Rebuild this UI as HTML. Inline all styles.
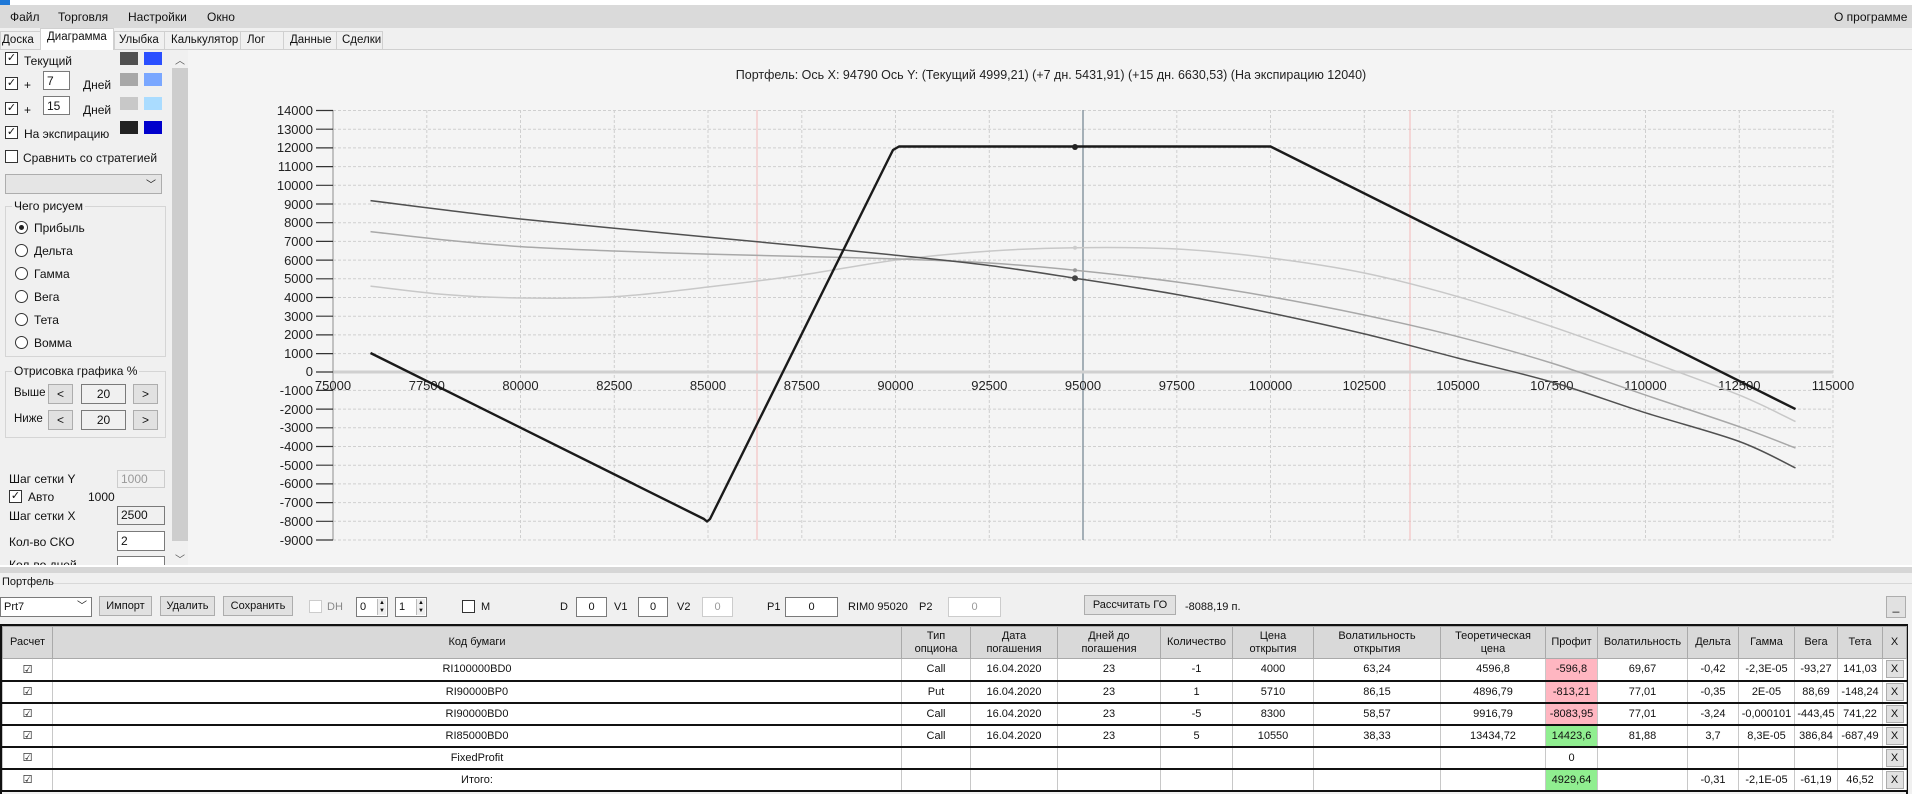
<!DOCTYPE html>
<html><head><meta charset="utf-8"><style>
*{box-sizing:border-box}
body{margin:0;width:1912px;height:794px;background:#f0f0f0;font-family:"Liberation Sans",sans-serif;font-size:12px;color:#111;position:relative;overflow:hidden}
.a{position:absolute;white-space:nowrap}
.cb{position:absolute;width:13px;height:13px;border:1px solid #333;background:#fff;font-size:11px;line-height:11px;text-align:center}
.rb{position:absolute;width:13px;height:13px;border:1px solid #333;border-radius:50%;background:#fff}
.box{position:absolute;border:1px solid #7a7a7a;background:#fff;padding-left:3px;line-height:18px}
.btn{position:absolute;border:1px solid #adadad;background:#e1e1e1;text-align:center;line-height:18px}
.sw{position:absolute;width:18px;height:13px}
.grp{position:absolute;border:1px solid #d5d5d5}
.gl{position:absolute;background:#f0f0f0;padding:0 2px;top:-8px;left:6px}
table{position:absolute;border-collapse:collapse;font-size:11px;table-layout:fixed}
td{border-left:1px solid #c8c8c8;border-right:1px solid #c8c8c8;border-bottom:2px solid #111;text-align:center;height:22px;padding:0;background:#fff;overflow:hidden;white-space:nowrap}
th{background:#d9d9d9;font-weight:normal;border:1px solid #aaa;height:32px;padding:0;line-height:13px}
.xb{display:inline-block;width:18px;height:18px;border:1px solid #adadad;background:#e1e1e1;line-height:16px}
.pk{background:#ffb6c1}.gr{background:#90ee90}
.sp{position:absolute;right:1px;top:1px;width:9px;height:16px;border-left:1px solid #bbb;font-size:6px;line-height:8px;text-align:center;background:#eee}
</style></head><body>
<div class="a" style="left:0;top:0;width:1912px;height:5px;background:#fff"></div>
<div class="a" style="left:0;top:0;width:10px;height:5px;background:#1e78d7"></div>
<div class="a" style="left:0;top:5px;width:1912px;height:23px;background:#dadada"></div>
<div class="a" style="left:10px;top:10px">Файл</div>
<div class="a" style="left:58px;top:10px">Торговля</div>
<div class="a" style="left:128px;top:10px">Настройки</div>
<div class="a" style="left:207px;top:10px">Окно</div>
<div class="a" style="left:1834px;top:10px">О программе</div>
<div class="a" style="left:0;top:49px;width:1912px;height:1px;background:#d0d0d0"></div>
<div class="a" style="left:0;top:31px;width:383px;height:19px;border:1px solid #d0d0d0;background:#f0f0f0"></div>
<div class="a" style="left:40px;top:28px;width:74px;height:22px;background:#fff;border:1px solid #d0d0d0;border-bottom:none"></div>
<div class="a" style="left:2px;top:34px;font-size:11.5px">Доска</div>
<div class="a" style="left:47px;top:31px;font-size:11.5px">Диаграмма</div>
<div class="a" style="left:119px;top:34px;font-size:11.5px">Улыбка</div>
<div class="a" style="left:171px;top:34px;font-size:11.5px">Калькулятор</div>
<div class="a" style="left:247px;top:34px;font-size:11.5px">Лог</div>
<div class="a" style="left:290px;top:34px;font-size:11.5px">Данные</div>
<div class="a" style="left:342px;top:34px;font-size:11.5px">Сделки</div>
<div class="a" style="left:114px;top:31px;width:1px;height:19px;background:#d0d0d0"></div>
<div class="a" style="left:164px;top:31px;width:1px;height:19px;background:#d0d0d0"></div>
<div class="a" style="left:240px;top:31px;width:1px;height:19px;background:#d0d0d0"></div>
<div class="a" style="left:283px;top:31px;width:1px;height:19px;background:#d0d0d0"></div>
<div class="a" style="left:336px;top:31px;width:1px;height:19px;background:#d0d0d0"></div>
<div class="a" style="left:188px;top:50px;width:1724px;height:515px;background:#f4f4f4"></div>
<div class="cb" style="left:5px;top:52px">✓</div><div class="a" style="left:24px;top:54px">Текущий</div>
<div class="sw" style="left:120px;top:52px;background:#505050"></div><div class="sw" style="left:144px;top:52px;background:#2a4fff"></div>
<div class="cb" style="left:5px;top:77px">✓</div><div class="a" style="left:24px;top:78px">+</div>
<div class="box" style="left:43px;top:71px;width:27px;height:19px">7</div><div class="a" style="left:83px;top:78px">Дней</div>
<div class="sw" style="left:120px;top:73px;background:#a8a8a8"></div><div class="sw" style="left:144px;top:73px;background:#7aa7ff"></div>
<div class="cb" style="left:5px;top:102px">✓</div><div class="a" style="left:24px;top:103px">+</div>
<div class="box" style="left:43px;top:96px;width:27px;height:19px">15</div><div class="a" style="left:83px;top:103px">Дней</div>
<div class="sw" style="left:120px;top:97px;background:#c8c8c8"></div><div class="sw" style="left:144px;top:97px;background:#aadcff"></div>
<div class="cb" style="left:5px;top:126px">✓</div><div class="a" style="left:24px;top:127px">На экспирацию</div>
<div class="sw" style="left:120px;top:121px;background:#222"></div><div class="sw" style="left:144px;top:121px;background:#0000cc"></div>
<div class="cb" style="left:5px;top:150px"></div><div class="a" style="left:23px;top:151px">Сравнить со стратегией</div>
<div class="a" style="left:5px;top:174px;width:157px;height:20px;border:1px solid #adadad;background:#e5e5e5"><span class="a" style="right:5px;top:1px;font-size:10px">﹀</span></div>
<div class="grp" style="left:5px;top:206px;width:161px;height:151px"><span class="gl">Чего рисуем</span></div>
<div class="rb" style="left:15px;top:221px"><div style="position:absolute;left:3px;top:3px;width:5px;height:5px;border-radius:50%;background:#222"></div></div><div class="a" style="left:34px;top:221px">Прибыль</div>
<div class="rb" style="left:15px;top:244px"></div><div class="a" style="left:34px;top:244px">Дельта</div>
<div class="rb" style="left:15px;top:267px"></div><div class="a" style="left:34px;top:267px">Гамма</div>
<div class="rb" style="left:15px;top:290px"></div><div class="a" style="left:34px;top:290px">Вега</div>
<div class="rb" style="left:15px;top:313px"></div><div class="a" style="left:34px;top:313px">Тета</div>
<div class="rb" style="left:15px;top:336px"></div><div class="a" style="left:34px;top:336px">Вомма</div>
<div class="grp" style="left:5px;top:371px;width:161px;height:67px"><span class="gl">Отрисовка графика %</span></div>
<div class="a" style="left:14px;top:387px;font-size:11.5px">Выше</div>
<div class="btn" style="left:48px;top:384px;width:25px;height:20px">&lt;</div><div class="box" style="left:81px;top:384px;width:45px;height:20px;text-align:center;padding:0;background:#f0f0f0">20</div><div class="btn" style="left:133px;top:384px;width:25px;height:20px">&gt;</div>
<div class="a" style="left:14px;top:413px;font-size:11.5px">Ниже</div>
<div class="btn" style="left:48px;top:410px;width:25px;height:20px">&lt;</div><div class="box" style="left:81px;top:410px;width:45px;height:20px;text-align:center;padding:0;background:#f0f0f0">20</div><div class="btn" style="left:133px;top:410px;width:25px;height:20px">&gt;</div>
<div class="a" style="left:9px;top:472px">Шаг сетки Y</div>
<div class="box" style="left:117px;top:470px;width:48px;height:18px;color:#999;border-color:#ccc;background:#f0f0f0;line-height:16px">1000</div>
<div class="cb" style="left:9px;top:490px">✓</div><div class="a" style="left:28px;top:490px">Авто</div><div class="a" style="left:88px;top:490px">1000</div>
<div class="a" style="left:9px;top:509px">Шаг сетки X</div>
<div class="box" style="left:117px;top:506px;width:48px;height:19px;background:#f0f0f0;line-height:17px">2500</div>
<div class="a" style="left:9px;top:535px">Кол-во СКО</div>
<div class="box" style="left:117px;top:531px;width:48px;height:20px">2</div>
<div class="a" style="left:9px;top:558px;height:7px;overflow:hidden">Кол-во дней</div>
<div class="box" style="left:117px;top:556px;width:48px;height:9px;border-bottom:none;line-height:12px;overflow:hidden"></div>
<div class="a" style="left:172px;top:50px;width:16px;height:515px;background:#f0f0f0"></div>
<div class="a" style="left:172px;top:68px;width:16px;height:473px;background:#cdcdcd"></div>
<div class="a" style="left:175px;top:52px;font-size:10px;color:#555">︿</div>
<div class="a" style="left:175px;top:551px;font-size:10px;color:#555">﹀</div>

<svg class="a" style="left:0;top:0" width="1912" height="565" xmlns="http://www.w3.org/2000/svg" font-family="Liberation Sans, sans-serif">
<text x="1051" y="79" font-size="12.5" text-anchor="middle" fill="#222">Портфель: Ось X: 94790 Ось Y:  (Текущий 4999,21)  (+7 дн. 5431,91)  (+15 дн. 6630,53)  (На экспирацию 12040)</text>
<g stroke="#cfcfcf" stroke-dasharray="3,2" stroke-width="1">
<path d="M333 110.5H1833M333 129.2H1833M333 147.9H1833M333 166.6H1833M333 185.3H1833M333 204H1833M333 222.7H1833M333 241.4H1833M333 260.1H1833M333 278.8H1833M333 297.5H1833M333 316.2H1833M333 334.9H1833M333 353.6H1833M333 390.4H1833M333 409.1H1833M333 427.8H1833M333 446.5H1833M333 465.2H1833M333 483.9H1833M333 502.6H1833M333 521.3H1833M333 540H1833"/>
<path d="M426.8 110V540M520.5 110V540M614.3 110V540M708 110V540M801.8 110V540M895.5 110V540M989.3 110V540M1083 110V540M1176.8 110V540M1270.5 110V540M1364.3 110V540M1458 110V540M1551.8 110V540M1645.5 110V540M1739.3 110V540M1833 110V540"/>
</g>
<line x1="757" y1="110" x2="757" y2="540" stroke="#f4b8b8"/>
<line x1="1410" y1="110" x2="1410" y2="540" stroke="#f4b8b8"/>
<line x1="1083" y1="110" x2="1083" y2="540" stroke="#7a8a96" stroke-width="1.3"/>
<line x1="333" y1="372" x2="1833" y2="372" stroke="#d0d0d0" stroke-width="3"/>
<line x1="333" y1="110" x2="333" y2="540" stroke="#b0b0b0" stroke-width="1.5"/>
<g stroke="#333" stroke-width="1.2">
<path d="M316 110.5H333M316 129.2H333M316 147.9H333M316 166.6H333M316 185.3H333M316 204H333M316 222.7H333M316 241.4H333M316 260.1H333M316 278.8H333M316 297.5H333M316 316.2H333M316 334.9H333M316 353.6H333M316 372H333M316 390.4H333M316 409.1H333M316 427.8H333M316 446.5H333M316 465.2H333M316 483.9H333M316 502.6H333M316 521.3H333M316 540H333"/>
</g>
<g font-size="13" text-anchor="end" fill="#222">
<text x="313" y="115">14000</text><text x="313" y="134">13000</text><text x="313" y="152">12000</text><text x="313" y="171">11000</text><text x="313" y="190">10000</text><text x="313" y="209">9000</text><text x="313" y="227">8000</text><text x="313" y="246">7000</text><text x="313" y="265">6000</text><text x="313" y="283">5000</text><text x="313" y="302">4000</text><text x="313" y="321">3000</text><text x="313" y="339">2000</text><text x="313" y="358">1000</text><text x="313" y="376">0</text><text x="313" y="395">-1000</text><text x="313" y="414">-2000</text><text x="313" y="432">-3000</text><text x="313" y="451">-4000</text><text x="313" y="470">-5000</text><text x="313" y="488">-6000</text><text x="313" y="507">-7000</text><text x="313" y="526">-8000</text><text x="313" y="545">-9000</text>
</g>
<g font-size="13" text-anchor="middle" fill="#222">
<text x="333" y="390">75000</text><text x="426.8" y="390">77500</text><text x="520.5" y="390">80000</text><text x="614.3" y="390">82500</text><text x="708" y="390">85000</text><text x="801.8" y="390">87500</text><text x="895.5" y="390">90000</text><text x="989.3" y="390">92500</text><text x="1083" y="390">95000</text><text x="1176.8" y="390">97500</text><text x="1270.5" y="390">100000</text><text x="1364.3" y="390">102500</text><text x="1458" y="390">105000</text><text x="1551.8" y="390">107500</text><text x="1645.5" y="390">110000</text><text x="1739.3" y="390">112500</text><text x="1833" y="390">115000</text>
</g>
<g fill="none" stroke-linejoin="round">
<path id="c15" stroke="#c8c8c8" stroke-width="1.5" d="M370.5,286.1 L445,294.5 L520.5,298 L614.3,296.7 L708,287 L801.8,275 L895.5,260.1 L989.3,251.1 L1075.1,247.7 L1176.8,249 L1270.5,258 L1364.3,273 L1458,296.7 L1551.8,326.6 L1645.5,360.1 L1739.3,395.1 L1795.5,421.6"/>
<path id="c7" stroke="#a8a8a8" stroke-width="1.5" d="M370.5,231.6 L445,240 L520.5,246.6 L614.3,251 L708,254.1 L801.8,256.5 L895.5,258.9 L989.3,263 L1075.1,270.2 L1176.8,282 L1270.5,296.7 L1364.3,315 L1458,336.7 L1551.8,363.1 L1645.5,395.1 L1739.3,426.7 L1795.5,448"/>
<path id="c0" stroke="#505050" stroke-width="1.5" d="M370.5,200.6 L445,210 L520.5,219 L614.3,228.2 L708,237.1 L801.8,246 L895.5,255.2 L989.3,265.5 L1075.1,278.2 L1176.8,294.5 L1270.5,313 L1364.3,333.9 L1458,358.1 L1551.8,382 L1645.5,412.8 L1739.3,441.5 L1795.5,468"/>
<polyline stroke="#1a1a1a" stroke-width="2.4" points="370.5,353 704,519 707,521.5 710,519 888,160 893,150 899,146.5 1270.5,146.5 1795.5,409.1"/>
</g>
<circle cx="1075" cy="147" r="3" fill="#222"/>
<circle cx="1075" cy="278.2" r="3" fill="#444"/>
<circle cx="1075" cy="270.2" r="2" fill="#999"/>
<circle cx="1075" cy="247.7" r="2" fill="#ccc"/>
</svg>
<script>
['c15','c7','c0'].forEach(function(id){
 var el=document.getElementById(id);
 var pts=el.getAttribute('d').replace(/[ML]/g,' ').trim().split(/\s+/).map(function(s){return s.split(',').map(Number);});
 var d='M'+pts[0][0]+','+pts[0][1];
 for(var i=0;i<pts.length-1;i++){
  var p0=pts[i-1]||pts[i],p1=pts[i],p2=pts[i+1],p3=pts[i+2]||p2;
  var c1x=p1[0]+(p2[0]-p0[0])/6,c1y=p1[1]+(p2[1]-p0[1])/6,c2x=p2[0]-(p3[0]-p1[0])/6,c2y=p2[1]-(p3[1]-p1[1])/6;
  d+=' C'+c1x+','+c1y+' '+c2x+','+c2y+' '+p2[0]+','+p2[1];
 }
 el.setAttribute('d',d);
});
</script>

<div class="a" style="left:0;top:565px;width:1912px;height:2px;background:#fff"></div>
<div class="a" style="left:0;top:567px;width:1912px;height:6px;background:#d6d6d6"></div>
<div class="a" style="left:52px;top:583px;width:1860px;height:1px;background:#d8d8d8"></div>
<div class="a" style="left:2px;top:576px;font-size:11px">Портфель</div>
<div class="box" style="left:0;top:597px;width:92px;height:20px;font-size:11px">Prt7<span class="a" style="right:4px;top:0;font-size:10px">﹀</span></div>
<div class="btn" style="left:99px;top:596px;width:53px;height:20px;font-size:11px">Импорт</div>
<div class="btn" style="left:160px;top:596px;width:55px;height:20px;font-size:11px">Удалить</div>
<div class="btn" style="left:223px;top:596px;width:70px;height:20px;font-size:11px">Сохранить</div>
<div class="cb" style="left:309px;top:600px;border-color:#ccc"></div><div class="a" style="left:327px;top:601px;color:#888;font-size:11px">DH</div>
<div class="box" style="left:356px;top:597px;width:32px;height:20px;font-size:11px">0<div class="sp">▲<br>▼</div></div>
<div class="box" style="left:395px;top:597px;width:32px;height:20px;font-size:11px">1<div class="sp">▲<br>▼</div></div>
<div class="cb" style="left:462px;top:600px"></div><div class="a" style="left:481px;top:601px;font-size:11px">M</div>
<div class="a" style="left:560px;top:601px;font-size:11px">D</div><div class="box" style="left:576px;top:597px;width:31px;height:20px;text-align:center;padding:0;font-size:11px">0</div>
<div class="a" style="left:614px;top:601px;font-size:11px">V1</div><div class="box" style="left:638px;top:597px;width:30px;height:20px;text-align:center;padding:0;font-size:11px">0</div>
<div class="a" style="left:677px;top:601px;font-size:11px">V2</div><div class="box" style="left:702px;top:597px;width:31px;height:20px;text-align:center;padding:0;font-size:11px;color:#999;border-color:#ccc">0</div>
<div class="a" style="left:767px;top:601px;font-size:11px">P1</div><div class="box" style="left:785px;top:597px;width:53px;height:20px;text-align:center;padding:0;font-size:11px">0</div>
<div class="a" style="left:848px;top:601px;font-size:11px">RIM0 95020</div>
<div class="a" style="left:919px;top:601px;font-size:11px">P2</div><div class="box" style="left:948px;top:597px;width:53px;height:20px;text-align:center;padding:0;font-size:11px;color:#999;border-color:#ccc">0</div>
<div class="btn" style="left:1084px;top:595px;width:92px;height:20px;font-size:11px">Рассчитать ГО</div>
<div class="a" style="left:1185px;top:601px;font-size:11px">-8088,19 п.</div>
<div class="btn" style="left:1886px;top:596px;width:20px;height:22px">_</div>
<div class="a" style="left:0;top:624px;width:1908px;height:170px;border:2px solid #111;border-bottom:none;background:#f0f0f0"></div>
<table style="left:2px;top:626px;width:1904px">
<colgroup><col style="width:50px"><col style="width:849px"><col style="width:69px"><col style="width:87px"><col style="width:103px"><col style="width:72px"><col style="width:81px"><col style="width:127px"><col style="width:105px"><col style="width:52px"><col style="width:90px"><col style="width:51px"><col style="width:56px"><col style="width:43px"><col style="width:45px"><col style="width:24px"></colgroup>
<tr><th>Расчет</th><th>Код бумаги</th><th>Тип<br>опциона</th><th>Дата<br>погашения</th><th>Дней до<br>погашения</th><th>Количество</th><th>Цена<br>открытия</th><th>Волатильность<br>открытия</th><th>Теоретическая<br>цена</th><th>Профит</th><th>Волатильность</th><th>Дельта</th><th>Гамма</th><th>Вега</th><th>Тета</th><th>X</th></tr>
<tr><td>☑</td><td>RI100000BD0</td><td>Call</td><td>16.04.2020</td><td>23</td><td>-1</td><td>4000</td><td>63,24</td><td>4596,8</td><td class="pk">-596,8</td><td>69,67</td><td>-0,42</td><td>-2,3E-05</td><td>-93,27</td><td>141,03</td><td><span class="xb">X</span></td></tr>
<tr><td>☑</td><td>RI90000BP0</td><td>Put</td><td>16.04.2020</td><td>23</td><td>1</td><td>5710</td><td>86,15</td><td>4896,79</td><td class="pk">-813,21</td><td>77,01</td><td>-0,35</td><td>2E-05</td><td>88,69</td><td>-148,24</td><td><span class="xb">X</span></td></tr>
<tr><td>☑</td><td>RI90000BD0</td><td>Call</td><td>16.04.2020</td><td>23</td><td>-5</td><td>8300</td><td>58,57</td><td>9916,79</td><td class="pk">-8083,95</td><td>77,01</td><td>-3,24</td><td>-0,000101</td><td>-443,45</td><td>741,22</td><td><span class="xb">X</span></td></tr>
<tr><td>☑</td><td>RI85000BD0</td><td>Call</td><td>16.04.2020</td><td>23</td><td>5</td><td>10550</td><td>38,33</td><td>13434,72</td><td class="gr">14423,6</td><td>81,88</td><td>3,7</td><td>8,3E-05</td><td>386,84</td><td>-687,49</td><td><span class="xb">X</span></td></tr>
<tr><td>☑</td><td>FixedProfit</td><td></td><td></td><td></td><td></td><td></td><td></td><td></td><td>0</td><td></td><td></td><td></td><td></td><td></td><td><span class="xb">X</span></td></tr>
<tr><td>☑</td><td>Итого:</td><td></td><td></td><td></td><td></td><td></td><td></td><td></td><td class="gr">4929,64</td><td></td><td>-0,31</td><td>-2,1E-05</td><td>-61,19</td><td>46,52</td><td><span class="xb">X</span></td></tr>
</table>
</body></html>
